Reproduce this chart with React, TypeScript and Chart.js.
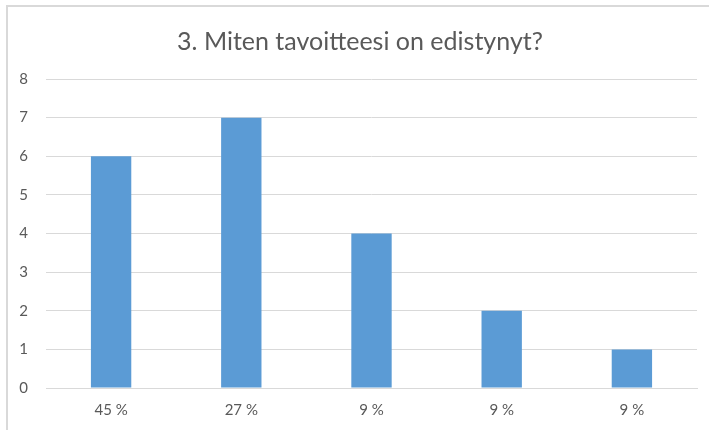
import React, { useEffect, useRef } from "react";
import { Chart, registerables } from "chart.js";

Chart.register(...registerables);

const categories = ["45 %", "27 %", "9 %", "9 %", "9 %"];
const values = [6, 7, 4, 2, 1];
const titleText = "3. Miten tavoitteesi on edistynyt?";
const yMin = 0;
const yMax = 8;

const FONT = "Lato, 'Open Sans', sans-serif";
const TEXT = "#595959";
const GRID = "#d9d9d9";
const BAR = "#5B9BD5";

const titleShift = {
  id: "titleShift",
  afterLayout(chart: any) {
    const tb = chart.titleBlock;
    if (tb) {
      tb.left = 23;
    }
  },
};

export default function App() {
  const ref = useRef<HTMLCanvasElement | null>(null);

  useEffect(() => {
    document.body.style.margin = "0";
    if (!ref.current) return;
    const chart = new Chart(ref.current, {
      type: "bar",
      data: {
        labels: categories,
        datasets: [
          {
            data: values,
            backgroundColor: BAR,
            borderWidth: 0,
            barPercentage: 1,
            categoryPercentage: 0.31,
          },
        ],
      },
      plugins: [titleShift],
      options: {
        animation: false,
        responsive: false,
        maintainAspectRatio: false,
        layout: { padding: { left: 0, right: 12, top: 0, bottom: -2 } },
        plugins: {
          legend: { display: false },
          tooltip: { enabled: false },
          title: {
            display: true,
            text: titleText,
            color: TEXT,
            font: { family: FONT, size: 25, weight: "normal" },
            padding: { top: 27, bottom: 22 },
          },
        },
        scales: {
          x: {
            grid: { display: false, drawTicks: false },
            border: { display: true, color: GRID, width: 1 },
            ticks: {
              color: TEXT,
              font: { family: FONT, size: 15 },
              padding: 13,
              maxRotation: 0,
            },
          },
          y: {
            min: yMin,
            max: yMax,
            afterFit: (scale: any) => {
              scale.width = 46;
            },
            grid: { color: GRID, drawTicks: false },
            border: { display: false },
            ticks: {
              stepSize: 1,
              color: TEXT,
              font: { family: FONT, size: 15 },
              padding: 18,
            },
          },
        },
      },
    });
    return () => chart.destroy();
  }, []);

  return (
    <div style={{ position: "relative", width: 709, height: 430, background: "#fff" }}>
      <canvas ref={ref} width={709} height={430} style={{ position: "absolute", left: 0, top: 0 }} />
      <div
        style={{
          position: "absolute",
          left: 6,
          top: 5,
          right: 0,
          bottom: 0,
          borderLeft: "2px solid #d9d9d9",
          borderTop: "2px solid #d9d9d9",
          pointerEvents: "none",
        }}
      />
    </div>
  );
}
